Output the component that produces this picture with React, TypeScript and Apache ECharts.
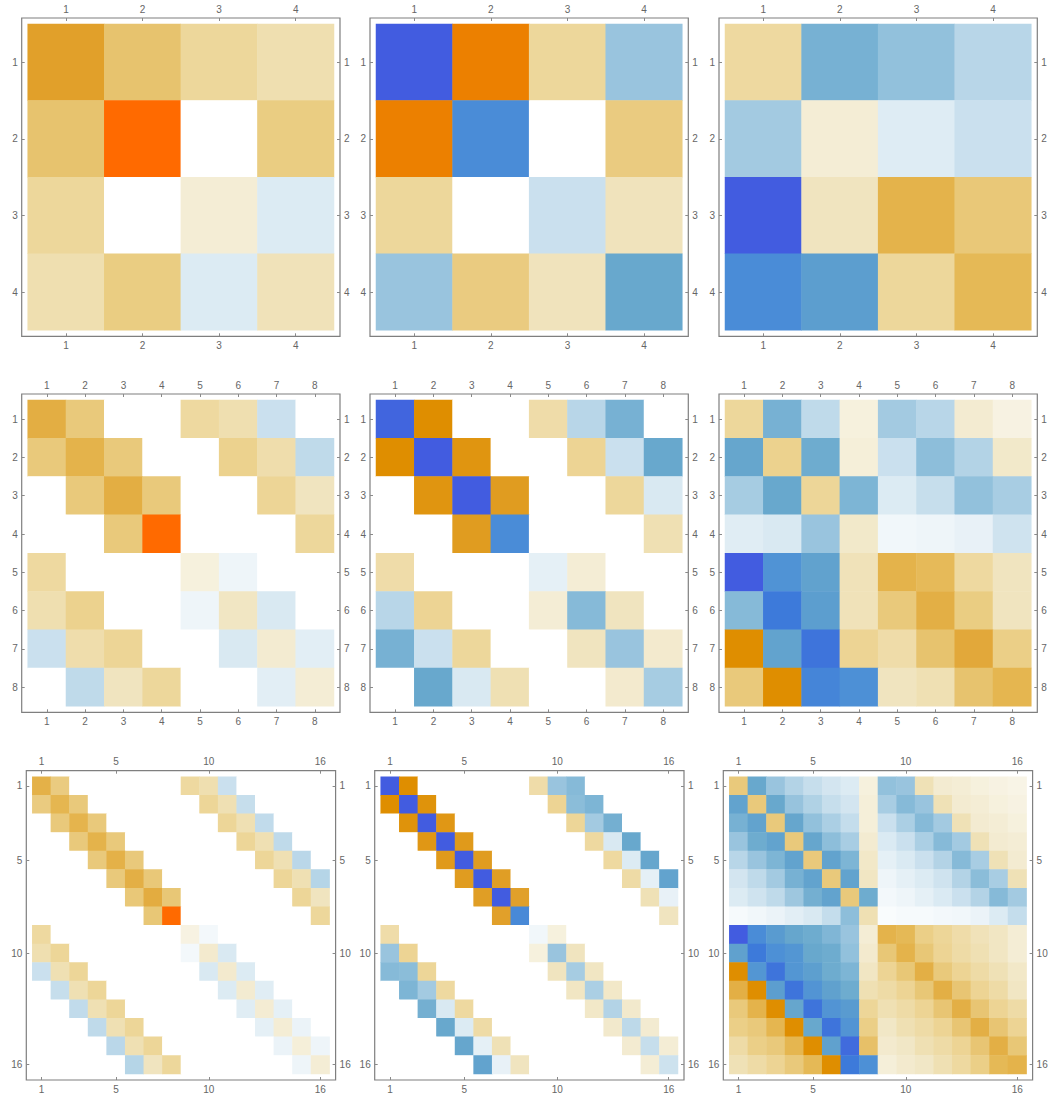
import React, { useEffect, useRef } from "react";
import * as echarts from "echarts";

// Row/column labels for each matrix size
const LABELS_4 = ["1", "2", "3", "4"];
const LABELS_8 = ["1", "2", "3", "4", "5", "6", "7", "8"];
const LABELS_16 = ["1", "2", "3", "4", "5", "6", "7", "8", "9", "10", "11", "12", "13", "14", "15", "16"];
// Only these rows/columns carry a tick on the 16×16 plots
const TICKED_16 = ["1", "5", "10", "16"];

// Diverging ramp from -1 (blue) through 0 (white) to +1 (orange), step 0.1
const RAMP = [
  "#425CE0", "#3D7ADA", "#4D90D6", "#5C9ECF", "#68A8CD", "#86BAD8", "#9EC7DF", "#B8D6E8", "#CFE3EF", "#E2EEF5",
  "#FFFFFF",
  "#F4EDD5", "#F0E4BF", "#EED9A0", "#EBCF87", "#E7C36E", "#E5B650", "#E1A535", "#DF8E00", "#EC8000", "#FF6A00",
];

// Row 1: 4×4 matrices
const M1 = [
  [0.72, 0.5, 0.32, 0.25],
  [0.5, 1.0, 0, 0.42],
  [0.32, 0, 0.1, -0.13],
  [0.25, 0.42, -0.13, 0.22],
];
const M2 = [
  [-1, 0.9, 0.32, -0.42],
  [0.9, -0.82, 0, 0.43],
  [0.32, 0, -0.22, 0.21],
  [-0.42, 0.43, 0.21, -0.6],
];
const M3 = [
  [0.3, -0.55, -0.45, -0.3],
  [-0.38, 0.1, -0.12, -0.22],
  [-1, 0.2, 0.62, 0.46],
  [-0.82, -0.7, 0.32, 0.58],
];

// Row 2: 8×8 matrices
const M4 = [
  [0.65, 0.45, 0, 0, 0.3, 0.25, -0.22, 0],
  [0.45, 0.62, 0.45, 0, 0, 0.37, 0.26, -0.27],
  [0, 0.45, 0.65, 0.45, 0, 0, 0.34, 0.2],
  [0, 0, 0.45, 1.0, 0, 0, 0, 0.32],
  [0.3, 0, 0, 0, 0.08, -0.06, 0, 0],
  [0.25, 0.37, 0, 0, -0.06, 0.18, -0.15, 0],
  [-0.22, 0.26, 0.34, 0, 0, -0.15, 0.12, -0.1],
  [0, -0.27, 0.2, 0.32, 0, 0, -0.1, 0.1],
];
const M5 = [
  [-0.97, 0.8, 0, 0, 0.27, -0.3, -0.55, 0],
  [0.8, -1, 0.77, 0, 0, 0.35, -0.22, -0.6],
  [0, 0.77, -1, 0.74, 0, 0, 0.32, -0.15],
  [0, 0, 0.74, -0.82, 0, 0, 0, 0.24],
  [0.27, 0, 0, 0, -0.09, 0.1, 0, 0],
  [-0.3, 0.35, 0, 0, 0.1, -0.5, 0.2, 0],
  [-0.55, -0.22, 0.32, 0, 0, 0.2, -0.42, 0.13],
  [0, -0.6, -0.15, 0.24, 0, 0, 0.13, -0.37],
];
const M6 = [
  [0.32, -0.55, -0.27, 0.08, -0.38, -0.3, 0.12, 0.07],
  [-0.62, 0.37, -0.58, 0.09, -0.22, -0.47, -0.32, 0.15],
  [-0.37, -0.6, 0.33, -0.53, -0.13, -0.24, -0.45, -0.36],
  [-0.11, -0.15, -0.42, 0.15, -0.05, -0.06, -0.08, -0.2],
  [-1, -0.78, -0.66, 0.22, 0.62, 0.57, 0.3, 0.2],
  [-0.5, -0.9, -0.7, 0.22, 0.45, 0.64, 0.42, 0.2],
  [0.8, -0.65, -0.92, 0.35, 0.27, 0.5, 0.68, 0.4],
  [0.45, 0.8, -0.85, -0.8, 0.2, 0.24, 0.5, 0.6],
];

// Row 3: 16×16 matrices
const M7 = [
  [0.63, 0.43, 0, 0, 0, 0, 0, 0, 0.3, 0.25, -0.22, 0, 0, 0, 0, 0],
  [0.43, 0.6, 0.45, 0, 0, 0, 0, 0, 0, 0.33, 0.24, -0.24, 0, 0, 0, 0],
  [0, 0.45, 0.61, 0.45, 0, 0, 0, 0, 0, 0, 0.33, 0.24, -0.26, 0, 0, 0],
  [0, 0, 0.45, 0.62, 0.45, 0, 0, 0, 0, 0, 0, 0.33, 0.24, -0.27, 0, 0],
  [0, 0, 0, 0.45, 0.63, 0.45, 0, 0, 0, 0, 0, 0, 0.33, 0.24, -0.29, 0],
  [0, 0, 0, 0, 0.45, 0.64, 0.46, 0, 0, 0, 0, 0, 0, 0.33, 0.24, -0.31],
  [0, 0, 0, 0, 0, 0.46, 0.66, 0.47, 0, 0, 0, 0, 0, 0, 0.33, 0.2],
  [0, 0, 0, 0, 0, 0, 0.47, 1.0, 0, 0, 0, 0, 0, 0, 0, 0.32],
  [0.3, 0, 0, 0, 0, 0, 0, 0, 0.07, -0.04, 0, 0, 0, 0, 0, 0],
  [0.25, 0.33, 0, 0, 0, 0, 0, 0, -0.04, 0.13, -0.15, 0, 0, 0, 0, 0],
  [-0.22, 0.24, 0.33, 0, 0, 0, 0, 0, 0, -0.15, 0.13, -0.13, 0, 0, 0, 0],
  [0, -0.24, 0.24, 0.33, 0, 0, 0, 0, 0, 0, -0.13, 0.12, -0.11, 0, 0, 0],
  [0, 0, -0.26, 0.24, 0.33, 0, 0, 0, 0, 0, 0, -0.11, 0.11, -0.09, 0, 0],
  [0, 0, 0, -0.27, 0.24, 0.33, 0, 0, 0, 0, 0, 0, -0.09, 0.1, -0.07, 0],
  [0, 0, 0, 0, -0.29, 0.24, 0.33, 0, 0, 0, 0, 0, 0, -0.07, 0.09, -0.06],
  [0, 0, 0, 0, 0, -0.31, 0.2, 0.32, 0, 0, 0, 0, 0, 0, -0.06, 0.1],
];
const M8 = [
  [-1, 0.8, 0, 0, 0, 0, 0, 0, 0.27, -0.42, -0.5, 0, 0, 0, 0, 0],
  [0.8, -1, 0.78, 0, 0, 0, 0, 0, 0, 0.35, -0.48, -0.53, 0, 0, 0, 0],
  [0, 0.78, -1, 0.76, 0, 0, 0, 0, 0, 0, 0.33, -0.38, -0.56, 0, 0, 0],
  [0, 0, 0.76, -1, 0.75, 0, 0, 0, 0, 0, 0, 0.3, -0.15, -0.6, 0, 0],
  [0, 0, 0, 0.75, -1, 0.74, 0, 0, 0, 0, 0, 0, 0.3, -0.13, -0.62, 0],
  [0, 0, 0, 0, 0.74, -1, 0.73, 0, 0, 0, 0, 0, 0, 0.28, -0.09, -0.65],
  [0, 0, 0, 0, 0, 0.73, -1, 0.72, 0, 0, 0, 0, 0, 0, 0.23, -0.08],
  [0, 0, 0, 0, 0, 0, 0.72, -0.83, 0, 0, 0, 0, 0, 0, 0, 0.2],
  [0.27, 0, 0, 0, 0, 0, 0, 0, -0.05, 0.08, 0, 0, 0, 0, 0, 0],
  [-0.42, 0.35, 0, 0, 0, 0, 0, 0, 0.08, -0.42, 0.2, 0, 0, 0, 0, 0],
  [-0.5, -0.48, 0.33, 0, 0, 0, 0, 0, 0, 0.2, -0.37, 0.18, 0, 0, 0, 0],
  [0, -0.53, -0.38, 0.3, 0, 0, 0, 0, 0, 0, 0.18, -0.35, 0.16, 0, 0, 0],
  [0, 0, -0.56, -0.15, 0.3, 0, 0, 0, 0, 0, 0, 0.16, -0.32, 0.14, 0, 0],
  [0, 0, 0, -0.6, -0.13, 0.28, 0, 0, 0, 0, 0, 0, 0.14, -0.28, 0.12, 0],
  [0, 0, 0, 0, -0.62, -0.09, 0.23, 0, 0, 0, 0, 0, 0, 0.12, -0.24, 0.1],
  [0, 0, 0, 0, 0, -0.65, -0.08, 0.2, 0, 0, 0, 0, 0, 0, 0.1, -0.21],
];
const M9 = [
  [0.45, -0.6, -0.42, -0.32, -0.24, -0.18, -0.13, 0.08, -0.45, -0.42, 0.23, 0.12, 0.1, 0.08, 0.07, 0.06],
  [-0.65, 0.45, -0.6, -0.43, -0.33, -0.24, -0.18, 0.09, -0.36, -0.5, -0.42, 0.23, 0.12, 0.1, 0.08, 0.07],
  [-0.55, -0.65, 0.45, -0.62, -0.45, -0.35, -0.25, 0.09, -0.22, -0.35, -0.5, -0.38, 0.23, 0.12, 0.1, 0.08],
  [-0.42, -0.58, -0.65, 0.45, -0.62, -0.47, -0.36, 0.12, -0.14, -0.22, -0.35, -0.5, -0.38, 0.23, 0.12, 0.1],
  [-0.3, -0.42, -0.53, -0.65, 0.45, -0.65, -0.53, 0.16, -0.09, -0.14, -0.22, -0.32, -0.5, -0.36, 0.23, 0.12],
  [-0.18, -0.27, -0.38, -0.55, -0.65, 0.45, -0.65, 0.18, -0.06, -0.09, -0.13, -0.2, -0.32, -0.48, -0.36, 0.23],
  [-0.13, -0.2, -0.27, -0.4, -0.56, -0.65, 0.45, -0.58, -0.04, -0.06, -0.09, -0.14, -0.22, -0.32, -0.5, -0.38],
  [-0.03, -0.05, -0.07, -0.1, -0.15, -0.25, -0.47, 0.24, -0.02, -0.03, -0.03, -0.04, -0.05, -0.07, -0.13, -0.25],
  [-1, -0.82, -0.72, -0.62, -0.58, -0.52, -0.42, 0.1, 0.62, 0.58, 0.4, 0.33, 0.27, 0.22, 0.18, 0.1],
  [-0.67, -0.9, -0.8, -0.76, -0.6, -0.58, -0.45, 0.13, 0.47, 0.62, 0.47, 0.35, 0.28, 0.24, 0.18, 0.1],
  [0.8, -0.76, -0.92, -0.76, -0.69, -0.58, -0.53, 0.18, 0.35, 0.47, 0.64, 0.45, 0.35, 0.28, 0.23, 0.16],
  [0.64, 0.8, -0.7, -0.92, -0.77, -0.67, -0.58, 0.24, 0.28, 0.35, 0.47, 0.64, 0.48, 0.35, 0.28, 0.18],
  [0.45, 0.62, 0.8, -0.62, -0.92, -0.77, -0.72, 0.33, 0.24, 0.28, 0.35, 0.48, 0.64, 0.48, 0.35, 0.28],
  [0.4, 0.45, 0.6, 0.8, -0.6, -0.92, -0.77, 0.4, 0.17, 0.24, 0.28, 0.35, 0.48, 0.64, 0.48, 0.35],
  [0.28, 0.4, 0.45, 0.6, 0.8, -0.67, -0.95, 0.52, 0.13, 0.17, 0.24, 0.28, 0.35, 0.48, 0.64, 0.47],
  [0.23, 0.28, 0.35, 0.45, 0.58, 0.8, -0.9, -0.8, 0.09, 0.13, 0.17, 0.24, 0.3, 0.4, 0.58, 0.62],
];

const MATRICES = [M1, M2, M3, M4, M5, M6, M7, M8, M9];

// Page layout of the cell area of each panel (rows of three)
const COL_LEFT = [
  [27.7, 376, 725],
  [27.7, 376, 725],
  [32.3, 380.7, 729.3],
];
const ROW_TOP = [24, 400, 776.7];
const ROW_SIZE = [306.3, 306.3, 297.3];
const FRAME_GAP = 6;

const FONT = "Liberation Sans";

function labelsFor(n: number): string[] {
  if (n === 4) return LABELS_4;
  if (n === 8) return LABELS_8;
  return LABELS_16;
}

function buildOption() {
  const grid: any[] = [];
  const xAxis: any[] = [];
  const yAxis: any[] = [];
  const series: any[] = [];
  const graphic: any[] = [];

  MATRICES.forEach((m, k) => {
    const r = Math.floor(k / 3);
    const c = k % 3;
    const left = COL_LEFT[r][c];
    const top = ROW_TOP[r];
    const size = ROW_SIZE[r];
    grid.push({ left, top, width: size, height: size, containLabel: false });

    const cats = labelsFor(m.length);
    const ticked = (i: number) => m.length < 16 || TICKED_16.includes(cats[i]);
    const axisBase = {
      type: "category",
      data: cats,
      gridIndex: k,
      offset: FRAME_GAP,
      axisLine: { show: false },
      axisTick: {
        show: true,
        inside: true,
        length: 3,
        alignWithLabel: true,
        interval: (i: number) => ticked(i),
        lineStyle: { color: "#8a8a8a", width: 1 },
      },
      axisLabel: {
        interval: (i: number) => ticked(i),
        margin: 4,
        color: "#666666",
        fontSize: 10,
        fontFamily: FONT,
      },
      splitLine: { show: false },
      splitArea: { show: false },
    };
    xAxis.push({ ...axisBase, position: "top" }, { ...axisBase, position: "bottom" });
    yAxis.push(
      { ...axisBase, position: "left", inverse: true },
      { ...axisBase, position: "right", inverse: true }
    );

    const data: number[][] = [];
    m.forEach((row, i) => row.forEach((v, j) => data.push([j, i, v])));
    series.push({
      type: "heatmap",
      xAxisIndex: 2 * k,
      yAxisIndex: 2 * k,
      data,
      itemStyle: { borderWidth: 0 },
      emphasis: { disabled: true },
      silent: true,
    });

    graphic.push({
      type: "rect",
      silent: true,
      shape: {
        x: left - FRAME_GAP,
        y: top - FRAME_GAP,
        width: size + 2 * FRAME_GAP,
        height: size + 2 * FRAME_GAP,
      },
      style: { fill: "none", stroke: "#7f7f7f", lineWidth: 1.2 },
    });
  });

  return {
    animation: false,
    backgroundColor: "#ffffff",
    grid,
    xAxis,
    yAxis,
    visualMap: {
      type: "continuous",
      show: false,
      min: -1,
      max: 1,
      dimension: 2,
      seriesIndex: MATRICES.map((_, i) => i),
      inRange: { color: RAMP },
    },
    series,
    graphic,
  };
}

export default function App() {
  const ref = useRef<HTMLDivElement>(null);
  useEffect(() => {
    if (!ref.current) return;
    const chart = echarts.init(ref.current, undefined, { renderer: "svg" });
    chart.setOption(buildOption() as any);
    return () => chart.dispose();
  }, []);
  return (
    <div
      ref={ref}
      style={{ position: "absolute", left: 0, top: 0, width: 1053, height: 1094, background: "#fff" }}
    />
  );
}
